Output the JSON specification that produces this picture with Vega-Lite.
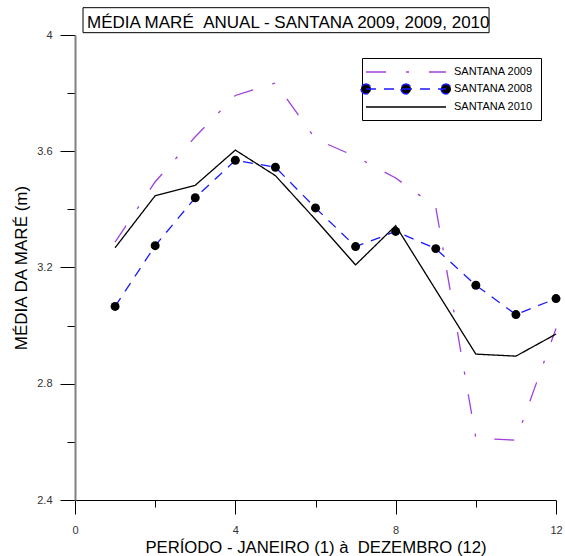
{
  "$schema": "https://vega.github.io/schema/vega-lite/v6.json",
  "width": 481,
  "height": 465,
  "autosize": "none",
  "padding": {"left": 75, "top": 35, "right": 9, "bottom": 56},
  "background": "white",
  "config": {"view": {"stroke": null}, "font": "Liberation Sans"},
  "title": {
    "text": "MÉDIA MARÉ \u00a0ANUAL - SANTANA 2009, 2009, 2010",
    "anchor": "start",
    "frame": "group",
    "dx": 12,
    "dy": 21,
    "fontSize": 17,
    "fontWeight": "normal",
    "font": "Liberation Sans",
    "color": "black",
    "baseline": "alphabetic",
    "offset": -17
  },
  "layer": [
    {
      "data": {"values": [{}]},
      "mark": {"type": "rect", "filled": false, "stroke": "black", "strokeWidth": 1},
      "encoding": {
        "x": {"datum": 0.2, "type": "quantitative"},
        "x2": {"datum": 10.33},
        "y": {"datum": 4.094, "type": "quantitative"},
        "y2": {"datum": 4.008}
      }
    },
    {
      "data": {
        "values": [
          {"serie": "SANTANA 2009", "mes": 1, "valor": 3.287},
          {"serie": "SANTANA 2009", "mes": 2, "valor": 3.495},
          {"serie": "SANTANA 2009", "mes": 3, "valor": 3.650},
          {"serie": "SANTANA 2009", "mes": 4, "valor": 3.792},
          {"serie": "SANTANA 2009", "mes": 5, "valor": 3.835},
          {"serie": "SANTANA 2009", "mes": 6, "valor": 3.642},
          {"serie": "SANTANA 2009", "mes": 7, "valor": 3.582},
          {"serie": "SANTANA 2009", "mes": 8, "valor": 3.508},
          {"serie": "SANTANA 2009", "mes": 9, "valor": 3.408},
          {"serie": "SANTANA 2009", "mes": 10, "valor": 2.613},
          {"serie": "SANTANA 2009", "mes": 11, "valor": 2.606},
          {"serie": "SANTANA 2009", "mes": 12, "valor": 2.990},
          {"serie": "SANTANA 2008", "mes": 1, "valor": 3.066},
          {"serie": "SANTANA 2008", "mes": 2, "valor": 3.275},
          {"serie": "SANTANA 2008", "mes": 3, "valor": 3.440},
          {"serie": "SANTANA 2008", "mes": 4, "valor": 3.569},
          {"serie": "SANTANA 2008", "mes": 5, "valor": 3.545},
          {"serie": "SANTANA 2008", "mes": 6, "valor": 3.405},
          {"serie": "SANTANA 2008", "mes": 7, "valor": 3.272},
          {"serie": "SANTANA 2008", "mes": 8, "valor": 3.324},
          {"serie": "SANTANA 2008", "mes": 9, "valor": 3.265},
          {"serie": "SANTANA 2008", "mes": 10, "valor": 3.139},
          {"serie": "SANTANA 2008", "mes": 11, "valor": 3.038},
          {"serie": "SANTANA 2008", "mes": 12, "valor": 3.093},
          {"serie": "SANTANA 2010", "mes": 1, "valor": 3.268},
          {"serie": "SANTANA 2010", "mes": 2, "valor": 3.447},
          {"serie": "SANTANA 2010", "mes": 3, "valor": 3.483},
          {"serie": "SANTANA 2010", "mes": 4, "valor": 3.604},
          {"serie": "SANTANA 2010", "mes": 5, "valor": 3.516},
          {"serie": "SANTANA 2010", "mes": 6, "valor": 3.365},
          {"serie": "SANTANA 2010", "mes": 7, "valor": 3.209},
          {"serie": "SANTANA 2010", "mes": 8, "valor": 3.344},
          {"serie": "SANTANA 2010", "mes": 9, "valor": 3.123},
          {"serie": "SANTANA 2010", "mes": 10, "valor": 2.902},
          {"serie": "SANTANA 2010", "mes": 11, "valor": 2.895},
          {"serie": "SANTANA 2010", "mes": 12, "valor": 2.971}
        ]
      },
      "layer": [
        {
          "mark": {"type": "line", "strokeWidth": 1.3},
          "encoding": {
            "x": {
              "field": "mes",
              "type": "quantitative",
              "scale": {"domain": [0, 12], "nice": false, "zero": false},
              "axis": {
                "title": "PERÍODO - JANEIRO (1) à \u00a0DEZEMBRO (12)",
                "values": [0, 2, 4, 6, 8, 10, 12],
                "labelExpr": "datum.value % 4 == 0 ? datum.label : ''",
                "tickSize": {"condition": {"test": "datum.value % 4 == 0", "value": 14}, "value": 7},
                "grid": false,
                "domainColor": "black",
                "tickColor": "black",
                "labelFont": "Liberation Sans",
                "labelFontSize": 11,
                "labelColor": "#333333",
                "labelPadding": 10,
                "labelFlush": false,
                "titleFont": "Liberation Sans",
                "titleFontSize": 16.7,
                "titleFontWeight": "normal",
                "titleColor": "black",
                "titlePadding": 4
              }
            },
            "y": {
              "field": "valor",
              "type": "quantitative",
              "scale": {"domain": [2.4, 4], "nice": false, "zero": false},
              "axis": {
                "title": "MÉDIA DA MARÉ (m)",
                "values": [2.4, 2.6, 2.8, 3.0, 3.2, 3.4, 3.6, 3.8, 4.0],
                "format": ".1~f",
                "labelExpr": "round(datum.value * 10) % 4 == 0 ? datum.label : ''",
                "tickSize": {"condition": {"test": "round(datum.value * 10) % 4 == 0", "value": 15}, "value": 8},
                "grid": false,
                "domainColor": "#808080",
                "domainWidth": 2,
                "tickColor": "black",
                "labelFont": "Liberation Sans",
                "labelFontSize": 11,
                "labelColor": "#333333",
                "labelPadding": 8,
                "labelFlush": false,
                "titleFont": "Liberation Sans",
                "titleFontSize": 17,
                "titleFontWeight": "normal",
                "titleColor": "black",
                "titlePadding": 6
              }
            },
            "color": {
              "field": "serie",
              "type": "nominal",
              "scale": {
                "domain": ["SANTANA 2009", "SANTANA 2008", "SANTANA 2010"],
                "range": ["#a040dc", "#1a1aff", "black"]
              },
              "legend": {
                "orient": "none",
                "legendX": 287,
                "legendY": 23,
                "title": null,
                "strokeColor": "black",
                "fillColor": "white",
                "padding": 8,
                "symbolType": {"expr": "datum.value == 'SANTANA 2008' ? 'M -8 0 L 8 0 M -9 0 A 1 1 0 1 0 -7 0 A 1 1 0 1 0 -9 0 M -1 0 A 1 1 0 1 0 1 0 A 1 1 0 1 0 -1 0 M 7 0 A 1 1 0 1 0 9 0 A 1 1 0 1 0 7 0' : 'M -8 0 L 8 0'"},
                "symbolSize": 100,
                "symbolStrokeWidth": 1.5,
                "symbolFillColor": "black",
                "symbolOffset": 30,
                "labelFont": "Liberation Sans",
                "labelFontSize": 11,
                "labelColor": "black",
                "labelOffset": 42,
                "rowPadding": 4
              }
            },
            "strokeDash": {
              "field": "serie",
              "type": "nominal",
              "scale": {
                "domain": ["SANTANA 2009", "SANTANA 2008", "SANTANA 2010"],
                "range": [[20, 20, 3, 20], [10, 8], [1, 0]]
              },
              "legend": null
            }
          }
        },
        {
          "transform": [{"filter": "datum.serie == 'SANTANA 2008'"}],
          "mark": {"type": "circle", "size": 80, "color": "black", "opacity": 1},
          "encoding": {
            "x": {"field": "mes", "type": "quantitative"},
            "y": {"field": "valor", "type": "quantitative"}
          }
        }
      ]
    }
  ]
}
